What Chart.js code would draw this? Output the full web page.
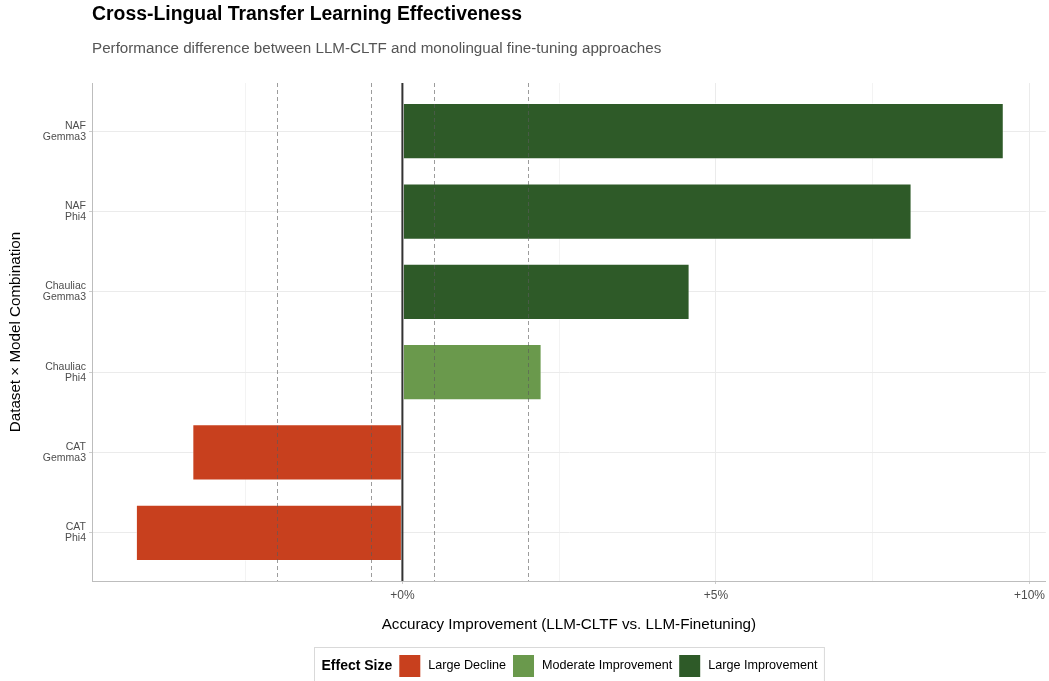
<!DOCTYPE html>
<html>
<head>
<meta charset="utf-8">
<script src="https://cdn.jsdelivr.net/npm/chart.js@4"></script>
<style>
  html, body { margin: 0; padding: 0; background: #fff; }
  canvas { display: block; }
</style>
</head>
<body>
<canvas id="chart" width="1049" height="681"></canvas>
<script>
// data, bottom row first
const datasetNames = ["CAT", "CAT", "Chauliac", "Chauliac", "NAF", "NAF"];
const modelNames = ["Phi4", "Gemma3", "Phi4", "Gemma3", "Phi4", "Gemma3"];
const improvement = [-4.25, -3.35, 2.22, 4.58, 8.12, 9.59];
const effect = ["Large Decline", "Large Decline", "Moderate Improvement",
  "Large Improvement", "Large Improvement", "Large Improvement"];
const effectLevels = ["Large Decline", "Moderate Improvement", "Large Improvement"];
const effectColors = ["#C8401E", "#6A994C", "#2E5A28"];
const xTicks = [-2.5, 0, 2.5, 5, 7.5, 10];
const refLines = [-2, -0.5, 0.5, 2];

const FONT = "'Liberation Sans', Arial, Helvetica, sans-serif";

// titles, axis titles, reference lines and legend
const decorations = {
  id: "decorations",
  afterDatasetsDraw(chart) {
    const ctx = chart.ctx;
    const xs = chart.scales.x;
    const a = chart.chartArea;
    ctx.save();
    // dashed threshold lines
    ctx.strokeStyle = "rgba(90,90,90,0.6)";
    ctx.lineWidth = 1;
    ctx.setLineDash([4, 3]);
    refLines.forEach(v => {
      const px = Math.round(xs.getPixelForValue(v)) + 0.5;
      ctx.beginPath();
      ctx.moveTo(px, a.top);
      ctx.lineTo(px, a.bottom);
      ctx.stroke();
    });
    // zero line
    ctx.setLineDash([]);
    ctx.strokeStyle = "#333333";
    ctx.lineWidth = 2;
    const zx = xs.getPixelForValue(0);
    ctx.beginPath();
    ctx.moveTo(zx, a.top);
    ctx.lineTo(zx, a.bottom);
    ctx.stroke();
    ctx.restore();
  },
  afterDraw(chart) {
    const ctx = chart.ctx;
    const a = chart.chartArea;
    ctx.save();
    ctx.textBaseline = "middle";
    ctx.textAlign = "left";
    ctx.fillStyle = "#000";
    ctx.font = "bold 19.4px " + FONT;
    ctx.fillText("Cross-Lingual Transfer Learning Effectiveness", a.left, 15);
    ctx.fillStyle = "#555555";
    ctx.font = "15.2px " + FONT;
    ctx.fillText("Performance difference between LLM-CLTF and monolingual fine-tuning approaches", a.left, 49);

    // axis titles
    ctx.fillStyle = "#000";
    ctx.font = "15.2px " + FONT;
    ctx.textAlign = "center";
    ctx.fillText("Accuracy Improvement (LLM-CLTF vs. LLM-Finetuning)", (a.left + a.right) / 2, 625);
    ctx.save();
    ctx.translate(16, (a.top + a.bottom) / 2);
    ctx.rotate(-Math.PI / 2);
    ctx.fillText("Dataset \u00d7 Model Combination", 0, 0);
    ctx.restore();

    // legend
    const titleFont = "bold 14px " + FONT;
    const itemFont = "12.6px " + FONT;
    const sw = 21, gapSw = 8, gapItem = 7, padX = 7;
    ctx.font = titleFont;
    let total = ctx.measureText("Effect Size").width + 7;
    ctx.font = itemFont;
    effectLevels.forEach((l, i) => {
      total += sw + gapSw + ctx.measureText(l).width + (i < effectLevels.length - 1 ? gapItem : 0);
    });
    const boxW = total + padX * 2;
    const boxX = Math.round((a.left + a.right) / 2 - boxW / 2) + 0.5;
    const boxY = 647.5;
    ctx.strokeStyle = "#d9d9d9";
    ctx.lineWidth = 1;
    ctx.strokeRect(boxX, boxY, boxW, 60);
    const cy = 666;
    let x = boxX + padX;
    ctx.textAlign = "left";
    ctx.fillStyle = "#000";
    ctx.font = titleFont;
    ctx.fillText("Effect Size", x, cy);
    x += ctx.measureText("Effect Size").width + 7;
    ctx.font = itemFont;
    effectLevels.forEach((l, i) => {
      ctx.fillStyle = effectColors[i];
      ctx.fillRect(x, cy - 11, sw, 22);
      x += sw + gapSw;
      ctx.fillStyle = "#000";
      ctx.fillText(l, x, cy);
      x += ctx.measureText(l).width + gapItem;
    });
    ctx.restore();
  }
};

const ctx = document.getElementById("chart").getContext("2d");
const chart = new Chart(ctx, {
  type: "bar",
  data: {
    datasets: [{
      label: "Accuracy Improvement",
      data: improvement.map((v, i) => ({ x: v, y: i + 1 })),
      backgroundColor: effect.map(e => effectColors[effectLevels.indexOf(e)]),
      borderColor: "rgba(255,255,255,0.5)",
      borderWidth: 1,
      borderSkipped: false,
      barPercentage: 0.7,
      categoryPercentage: 1
    }]
  },
  options: {
    indexAxis: "y",
    responsive: false,
    animation: false,
    layout: { padding: { top: 83, right: 1, left: 0, bottom: 0 } },
    plugins: {
      legend: { display: false },
      tooltip: { enabled: false },
      title: { display: false }
    },
    scales: {
      x: {
        type: "linear",
        min: -4.95,
        max: 10.26,
        afterBuildTicks: s => { s.ticks = xTicks.map(v => ({ value: v })); },
        afterFit: s => { s.height = 100; },
        ticks: {
          autoSkip: false,
          maxRotation: 0,
          padding: 4,
          color: "#4d4d4d",
          font: { family: FONT, size: 12 },
          callback: v => (v % 5 === 0 ? "+" + v + "%" : "")
        },
        grid: {
          color: c => (c.tick && c.tick.value % 5 === 0 ? "#ebebeb" : "#f3f3f3"),
          tickLength: 3,
          tickColor: c => (c.tick && c.tick.value % 5 === 0 ? "#cccccc" : "rgba(0,0,0,0)")
        },
        border: { display: true, color: "#bdbdbd", width: 1 }
      },
      y: {
        type: "linear",
        min: 0.4,
        max: 6.6,
        offset: false,
        afterBuildTicks: s => { s.ticks = improvement.map((v, i) => ({ value: i + 1 })); },
        afterFit: s => { s.width = 92; },
        ticks: {
          autoSkip: false,
          padding: 3,
          color: "#4d4d4d",
          font: { family: FONT, size: 10.5, lineHeight: 1.05 },
          callback: v => [datasetNames[v - 1], modelNames[v - 1]]
        },
        grid: { offset: false, color: "#ebebeb", tickLength: 3, tickColor: "#cccccc" },
        border: { display: true, color: "#bdbdbd", width: 1 }
      }
    }
  },
  plugins: [decorations]
});
</script>
</body>
</html>
